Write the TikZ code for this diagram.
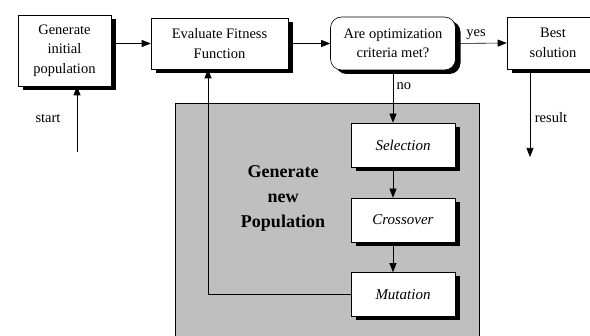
\documentclass[tikz,border=0pt]{standalone}
\usepackage{fontspec}
\setmainfont{Liberation Serif}
\usepackage{tikz}
\usetikzlibrary{arrows.meta,shadows}

\tikzset{
  box/.style={draw, fill=white, line width=0.6pt, align=center, inner sep=0pt,
    font=\fontsize{14.5}{19.5}\selectfont,
    drop shadow={shadow xshift=5pt, shadow yshift=-4pt, fill=black, opacity=1}},
  stagebox/.style={box, minimum width=104pt, minimum height=44pt,
    font=\fontsize{15}{19}\selectfont\itshape},
  lbl/.style={font=\fontsize{14.5}{17}\selectfont}
}

\begin{document}
\begin{tikzpicture}[x=1pt,y=-1pt,>={Triangle[length=9pt,width=7pt]},line width=0.6pt]
\clip (0,0) rectangle (590,336);
\fill[white] (0,0) rectangle (590,336);
% panel for the new population
\draw[fill=black!25] (175,103) rectangle (479,345);
\node[font=\fontsize{18}{25}\selectfont\bfseries, align=center] (newpop) at (283,198) {Generate\\new\\Population};

\node[box, minimum width=93pt, minimum height=71pt] (init) at (64.5,50.5) {Generate\\initial\\population};
\node[box, minimum width=137pt, minimum height=51pt] (eval) at (219.5,43.5) {Evaluate Fitness\\Function};
\node[box, rounded corners=11pt, minimum width=125pt, minimum height=53pt] (crit) at (393,43.5) {Are optimization\\criteria met?};
\node[box, minimum width=92pt, minimum height=52pt] (best) at (553,43) {Best\\solution};

\node[stagebox] (sel) at (403,145) {Selection};
\node[stagebox] (cross) at (403,220) {Crossover};
\node[stagebox] (mut) at (403,294.5) {Mutation};

\coordinate (startpt) at (77,152);
\coordinate (respt) at (530,157);

\draw[->] (init.east |- eval.west) -- (eval.west);
\draw[->] (eval.east) -- (crit.west);
\draw[->] (crit.east) -- node[lbl, above, pos=0.4] {yes} (best.west);
\draw[->] (crit.south) -- node[lbl, right, pos=0.3] {no} (crit.south |- sel.north);
\draw[->] (sel.south -| crit.south) -- (cross.north -| crit.south);
\draw[->] (cross.south -| crit.south) -- (mut.north -| crit.south);
\draw[->] (mut.west) -| ([xshift=-11.5pt]eval.south);
\draw[->] (startpt) -- (startpt |- init.south);
\draw[->] (respt |- best.south) -- (respt);

\node[lbl] (startlbl) at (48,118) {start};
\node[lbl] (reslbl) at (551,118) {result};
\end{tikzpicture}
\end{document}
